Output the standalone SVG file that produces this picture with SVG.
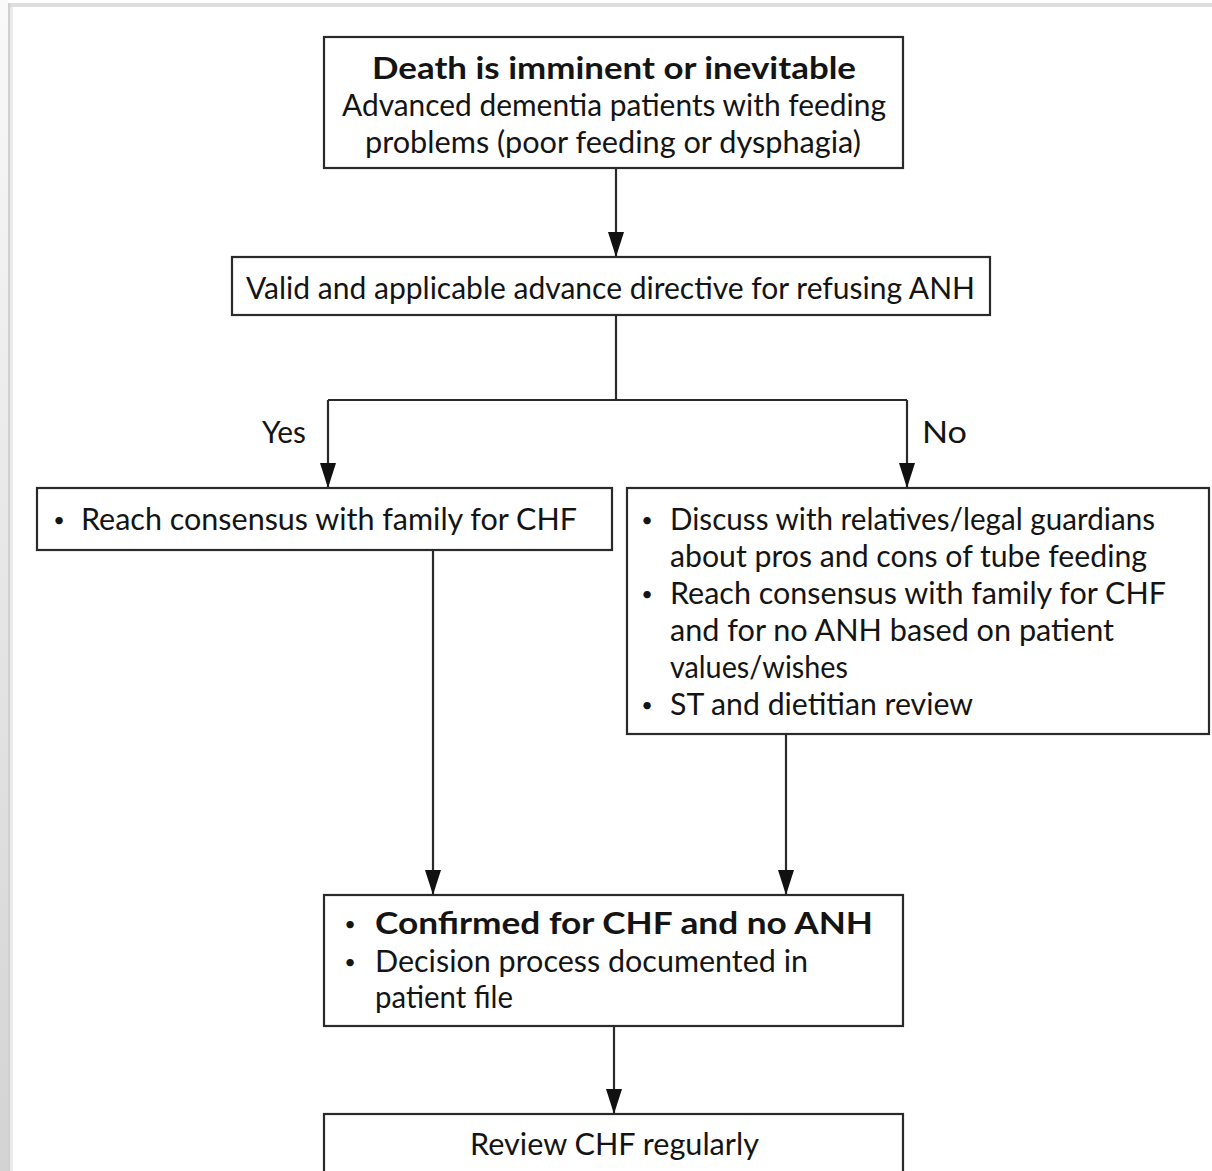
<svg xmlns="http://www.w3.org/2000/svg" width="1212" height="1171" viewBox="0 0 1212 1171">
<defs>
<linearGradient id="side" x1="0" y1="0" x2="0" y2="1">
<stop offset="0" stop-color="#f9f9f9"/>
<stop offset="1" stop-color="#d3d3d3"/>
</linearGradient>
<marker id="ah" markerUnits="userSpaceOnUse" markerWidth="25" markerHeight="16" refX="25" refY="8" orient="auto" viewBox="0 0 25 16">
<path d="M0,0 L25,8 L0,16 Z" fill="#111"/>
</marker>
</defs>
<style>
.box{fill:#fff;stroke:#2a2a2a;stroke-width:2.2}
.ln{fill:none;stroke:#2a2a2a;stroke-width:2.2}
.t{font-family:Lato,"Open Sans","Liberation Sans",sans-serif;font-size:30px;fill:#141414}
.b{font-weight:bold}
.bul{font-family:Lato,"Liberation Sans",sans-serif;font-size:20px;fill:#141414;text-anchor:middle}
</style>
<rect x="0" y="0" width="1212" height="1171" fill="#fff"/>
<rect x="0" y="0" width="8" height="1171" fill="url(#side)"/>
<rect x="8" y="3" width="1204" height="4" fill="#dedede"/>
<rect x="8" y="3" width="2.5" height="1168" fill="#d0d0d0"/>
<rect x="10.5" y="7" width="2.5" height="1164" fill="#ececec"/>

<g id="connectors">
<path class="ln" d="M616,169 V257" marker-end="url(#ah)"/>
<path class="ln" d="M616,315 V400 M328,400 H907"/>
<path class="ln" d="M328,400 V488" marker-end="url(#ah)"/>
<path class="ln" d="M907,400 V488" marker-end="url(#ah)"/>
<path class="ln" d="M433,551 V895" marker-end="url(#ah)"/>
<path class="ln" d="M786,734 V895" marker-end="url(#ah)"/>
<path class="ln" d="M614,1027 V1114" marker-end="url(#ah)"/>
<text class="t" x="262" y="443" textLength="44" lengthAdjust="spacingAndGlyphs">Yes</text>
<text class="t" x="922" y="443" textLength="45" lengthAdjust="spacingAndGlyphs">No</text>
</g>

<g id="n1">
<rect class="box" x="324" y="37" width="579" height="131"/>
<text class="t b" x="372" y="79" textLength="484" lengthAdjust="spacingAndGlyphs">Death is imminent or inevitable</text>
<text class="t" x="342" y="116" textLength="544" lengthAdjust="spacingAndGlyphs">Advanced dementia patients with feeding</text>
<text class="t" x="365" y="153" textLength="496" lengthAdjust="spacingAndGlyphs">problems (poor feeding or dysphagia)</text>
</g>

<g id="n2">
<rect class="box" x="232" y="257" width="758" height="58"/>
<text class="t" x="246" y="299" textLength="729" lengthAdjust="spacingAndGlyphs">Valid and applicable advance directive for refusing ANH</text>
</g>

<g id="n3">
<rect class="box" x="37" y="488" width="575" height="62"/>
<text class="bul" x="59" y="527">•</text>
<text class="t" x="81" y="530" textLength="496" lengthAdjust="spacingAndGlyphs">Reach consensus with family for CHF</text>
</g>

<g id="n4">
<rect class="box" x="627" y="488" width="582" height="246"/>
<text class="bul" x="647" y="527">•</text>
<text class="t" x="670" y="530" textLength="485" lengthAdjust="spacingAndGlyphs">Discuss with relatives/legal guardians</text>
<text class="t" x="670" y="567" textLength="477" lengthAdjust="spacingAndGlyphs">about pros and cons of tube feeding</text>
<text class="bul" x="647" y="601">•</text>
<text class="t" x="670" y="604" textLength="496" lengthAdjust="spacingAndGlyphs">Reach consensus with family for CHF</text>
<text class="t" x="670" y="641" textLength="444" lengthAdjust="spacingAndGlyphs">and for no ANH based on patient</text>
<text class="t" x="670" y="678" textLength="178" lengthAdjust="spacingAndGlyphs">values/wishes</text>
<text class="bul" x="647" y="712">•</text>
<text class="t" x="670" y="715" textLength="303" lengthAdjust="spacingAndGlyphs">ST and dietitian review</text>
</g>

<g id="n5">
<rect class="box" x="324" y="895" width="579" height="131"/>
<text class="bul" x="350" y="931">•</text>
<text class="t b" x="375" y="934" textLength="498" lengthAdjust="spacingAndGlyphs">Confirmed for CHF and no ANH</text>
<text class="bul" x="350" y="969">•</text>
<text class="t" x="375" y="972" textLength="433" lengthAdjust="spacingAndGlyphs">Decision process documented in</text>
<text class="t" x="375" y="1008" textLength="138" lengthAdjust="spacingAndGlyphs">patient file</text>
</g>

<g id="n6">
<rect class="box" x="324" y="1114" width="579" height="70"/>
<text class="t" x="470" y="1155" textLength="289" lengthAdjust="spacingAndGlyphs">Review CHF regularly</text>
</g>
</svg>
